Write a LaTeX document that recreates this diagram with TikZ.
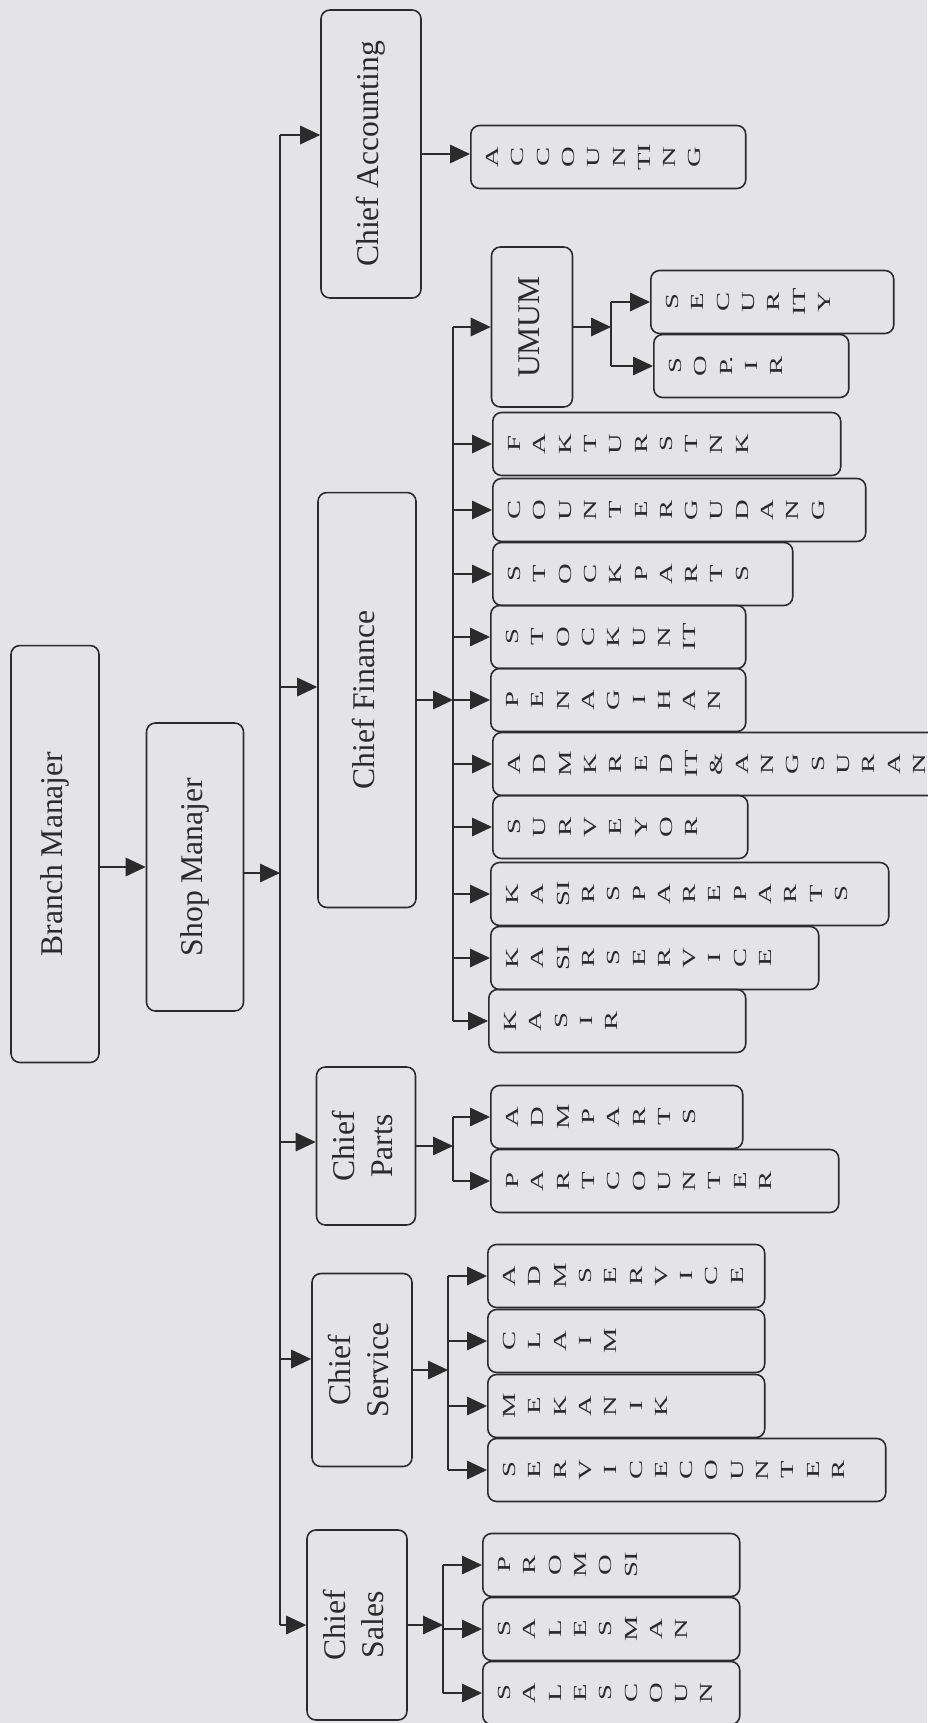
\documentclass[tikz,border=0pt]{standalone}
\usepackage{graphicx}
\usepackage{fontspec}
\setmainfont{Liberation Serif}
\newfontfamily\capsfont[FakeStretch=1.55]{Liberation Serif}
\usetikzlibrary{arrows.meta}
\definecolor{Paper}{HTML}{E4E4E6}
\definecolor{Ink}{HTML}{2B2B2B}
\newcommand{\turned}[1]{\rotatebox{90}{\begin{tabular}{@{}c@{}}#1\end{tabular}}}

\begin{document}
\begin{tikzpicture}[x=0.02cm,y=-0.02cm,
  head/.style={draw=Ink,line width=0.9pt,rounded corners=5pt,inner sep=0pt,text=Ink,
    font=\fontsize{18}{21.6}\selectfont},
  leaf/.style={draw=Ink,line width=0.9pt,rounded corners=5pt,inner sep=0pt,anchor=west,
    minimum height=1.26cm,minimum width=#1},
  letters/.style={anchor=west,inner sep=0pt,xshift=0.21cm,text=Ink,
    font=\capsfont\fontsize{10.5}{14.4}\selectfont},
  link/.style={draw=Ink,line width=0.9pt},
  tip/.style={link,-{Triangle[length=0.4cm,width=0.37cm]}}
]
\fill[Paper] (0,0) rectangle (927,1723);
\useasboundingbox (0,0) rectangle (927,1723);

% managers and chiefs
\node[head,minimum width=1.76cm,minimum height=8.34cm] (branch) at (55,854) {\turned{Branch Manajer}};
\node[head,minimum width=1.94cm,minimum height=5.76cm] (shop) at (195,867) {\turned{Shop Manajer}};
\node[head,minimum width=2cm,minimum height=5.76cm] (acct) at (371,154) {\turned{Chief Accounting}};
\node[head,minimum width=1.96cm,minimum height=8.3cm] (fin) at (367,700) {\turned{Chief Finance}};
\node[head,minimum width=1.98cm,minimum height=3.16cm] (parts) at (366,1146) {\turned{Chief\\Parts}};
\node[head,minimum width=2cm,minimum height=3.86cm] (serv) at (362,1370) {\turned{Chief\\Service}};
\node[head,minimum width=2cm,minimum height=3.8cm] (sales) at (357,1625) {\turned{Chief\\Sales}};
\node[head,minimum width=1.62cm,minimum height=3.2cm] (umum) at (532,327) {\turned{UMUM}};

% staff
\node[leaf=5.5cm,label={[letters]west:\turned{A\\C\\C\\O\\U\\N\\TI\\N\\G}}] (accounting) at (470,157) {};
\node[leaf=4.86cm,label={[letters]west:\turned{S\\E\\C\\U\\R\\IT\\Y}}] (security) at (650,302) {};
\node[leaf=3.9cm,label={[letters]west:\turned{S\\O\\P.\\I\\R}}] (sopir) at (653,366) {};
\node[leaf=6.96cm,label={[letters]west:\turned{F\\A\\K\\T\\U\\R\\S\\T\\N\\K}}] (faktur) at (492,444) {};
\node[leaf=7.46cm,label={[letters]west:\turned{C\\O\\U\\N\\T\\E\\R\\G\\U\\D\\A\\N\\G}}] (gudang) at (492,510) {};
\node[leaf=6cm,label={[letters]west:\turned{S\\T\\O\\C\\K\\P\\A\\R\\T\\S}}] (stockparts) at (492,574) {};
\node[leaf=5.1cm,label={[letters]west:\turned{S\\T\\O\\C\\K\\U\\N\\IT}}] (stockunit) at (490,637) {};
\node[leaf=5.1cm,label={[letters]west:\turned{P\\E\\N\\A\\G\\I\\H\\A\\N}}] (penagihan) at (490,700) {};
\node[leaf=10.2cm,label={[letters]west:\turned{A\\D\\M\\K\\R\\E\\D\\IT\\\&\\A\\N\\G\\S\\U\\R\\A\\N}}] (kredit) at (492,764) {};
\node[leaf=5.1cm,label={[letters]west:\turned{S\\U\\R\\V\\E\\Y\\O\\R}}] (surveyor) at (492,827) {};
\node[leaf=7.96cm,label={[letters]west:\turned{K\\A\\SI\\R\\S\\P\\A\\R\\E\\P\\A\\R\\T\\S}}] (kasirsp) at (490,894) {};
\node[leaf=6.56cm,label={[letters]west:\turned{K\\A\\SI\\R\\S\\E\\R\\V\\I\\C\\E}}] (kasirsv) at (490,958) {};
\node[leaf=5.14cm,label={[letters]west:\turned{K\\A\\S\\I\\R}}] (kasir) at (488,1021) {};
\node[leaf=5.04cm,label={[letters]west:\turned{A\\D\\M\\P\\A\\R\\T\\S}}] (admparts) at (490,1117) {};
\node[leaf=6.96cm,label={[letters]west:\turned{P\\A\\R\\T\\C\\O\\U\\N\\T\\E\\R}}] (partcounter) at (490,1181) {};
\node[leaf=5.54cm,label={[letters]west:\turned{A\\D\\M\\S\\E\\R\\V\\I\\C\\E}}] (admservice) at (487,1276) {};
\node[leaf=5.54cm,label={[letters]west:\turned{C\\L\\A\\I\\M}}] (claim) at (487,1341) {};
\node[leaf=5.54cm,label={[letters]west:\turned{M\\E\\K\\A\\N\\I\\K}}] (mekanik) at (487,1406) {};
\node[leaf=7.96cm,label={[letters]west:\turned{S\\E\\R\\V\\I\\C\\E\\C\\O\\U\\N\\T\\E\\R}}] (servcounter) at (487,1470) {};
\node[leaf=5.14cm,label={[letters]west:\turned{P\\R\\O\\M\\O\\SI}}] (promosi) at (482,1565) {};
\node[leaf=5.14cm,label={[letters]west:\turned{S\\A\\L\\E\\S\\M\\A\\N}}] (salesman) at (482,1629) {};
\node[leaf=5.14cm,label={[letters]west:\turned{S\\A\\L\\E\\S\\C\\O\\U\\N}}] (salescoun) at (482,1693) {};

% lines
\coordinate (bus) at (280,0);
\coordinate (finbus) at (453,0);
\coordinate (umumbus) at (611,0);
\coordinate (partbus) at (453,0);
\coordinate (servbus) at (448,0);
\coordinate (salebus) at (443,0);

\draw[tip] (shop.west -| branch.east) -- (shop.west);
\draw[tip] ([yshift=-0.12cm]shop.east) -- ([yshift=-0.12cm]shop.east -| bus);
\draw[link] ([yshift=0.38cm]acct.west -| bus) -- (sales.west -| bus);
\foreach \c/\d in {acct/0.38,fin/0.26,parts/0.08,serv/0.22,sales/0}
  \draw[tip] ([yshift=\d cm]\c.west -| bus) -- ([yshift=\d cm]\c.west);
\draw[tip] (acct.east) -- (acct.east -| accounting.west);

\draw[tip] (fin.east) -- (fin.east -| finbus);
\draw[link] (umum.west -| finbus) -- (kasir.west -| finbus);
\foreach \n in {umum,faktur,gudang,stockparts,stockunit,penagihan,kredit,surveyor,kasirsp,kasirsv,kasir}
  \draw[tip] (\n.west -| finbus) -- (\n.west);

\draw[tip] (umum.east) -- (umum.east -| umumbus);
\draw[link] (security.west -| umumbus) -- (sopir.west -| umumbus);
\foreach \n in {security,sopir} \draw[tip] (\n.west -| umumbus) -- (\n.west);

\draw[tip] (parts.east) -- (parts.east -| partbus);
\draw[link] (admparts.west -| partbus) -- (partcounter.west -| partbus);
\foreach \n in {admparts,partcounter} \draw[tip] (\n.west -| partbus) -- (\n.west);

\draw[tip] (serv.east) -- (serv.east -| servbus);
\draw[link] (admservice.west -| servbus) -- (servcounter.west -| servbus);
\foreach \n in {admservice,claim,mekanik,servcounter} \draw[tip] (\n.west -| servbus) -- (\n.west);

\draw[tip] (sales.east) -- (sales.east -| salebus);
\draw[link] (promosi.west -| salebus) -- (salescoun.west -| salebus);
\foreach \n in {promosi,salesman,salescoun} \draw[tip] (\n.west -| salebus) -- (\n.west);
\end{tikzpicture}
\end{document}
